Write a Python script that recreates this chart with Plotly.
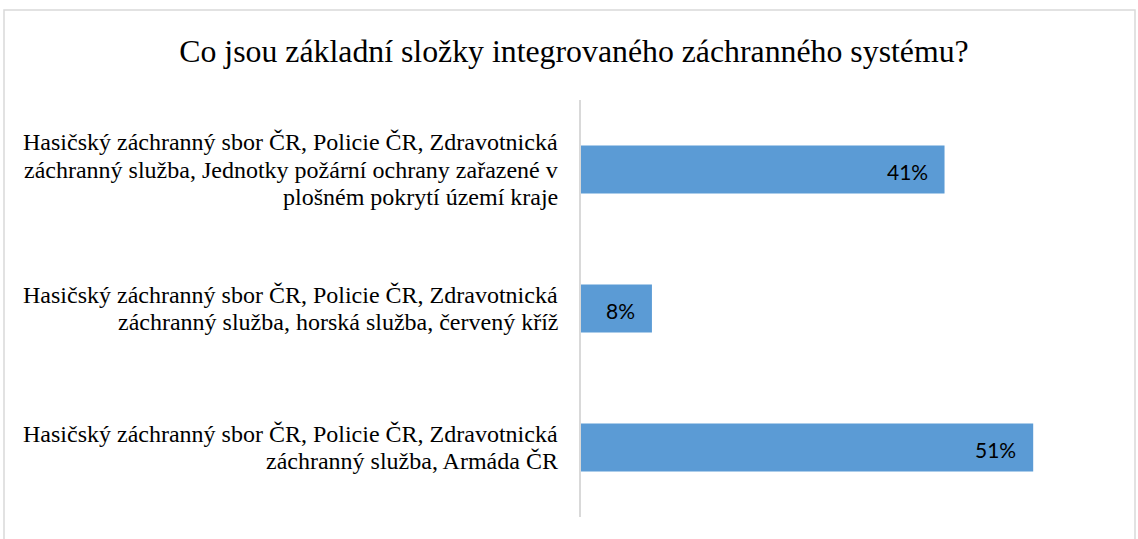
import plotly.graph_objects as go

categories = [
    "Hasičský záchranný sbor ČR, Policie ČR, Zdravotnická<br>záchranný služba, Jednotky požární ochrany zařazené v<br>plošném pokrytí území kraje",
    "Hasičský záchranný sbor ČR, Policie ČR, Zdravotnická<br>záchranný služba, horská služba, červený kříž",
    "Hasičský záchranný sbor ČR, Policie ČR, Zdravotnická<br>záchranný služba, Armáda ČR",
]
values = [0.41, 0.08, 0.51]
labels = ["41%", "8%", "51%"]

W, H = 1138, 539
L, R, T, B = 581, 25, 100, 22
pw = W - L - R
ph = H - T - B

SERIF = "Liberation Serif"
LINE_GAP = 27.7

fig = go.Figure(go.Bar(
    y=categories, x=values, orientation="h",
    marker=dict(color="#5b9bd5", line=dict(width=0)),
    hoverinfo="x+y",
))

annotations = []
# category labels, one annotation per text line for Excel-like line spacing
for cat in categories:
    lines = cat.split("<br>")
    n = len(lines)
    for k, line in enumerate(lines):
        annotations.append(dict(
            text=line, xref="paper", x=0, yref="y", y=cat,
            xanchor="right", yanchor="middle", xshift=-21,
            yshift=-(k - (n - 1) / 2) * LINE_GAP, showarrow=False,
            font=dict(family=SERIF, size=24, color="#000000"),
        ))
# data labels near the end of each bar
for cat, v, lab in zip(categories, values, labels):
    annotations.append(dict(
        text=lab, xref="x", x=v, yref="y", y=cat,
        xanchor="right", yanchor="middle", xshift=-15, yshift=-2, showarrow=False,
        font=dict(family="Lato, Liberation Sans, sans-serif", size=21, color="#000000"),
    ))

fig.update_layout(
    width=W, height=H,
    margin=dict(l=L, r=R, t=T, b=B, autoexpand=False),
    paper_bgcolor="white", plot_bgcolor="white",
    bargap=0.655,
    showlegend=False,
    title=dict(text="Co jsou základní složky integrovaného záchranného systému?",
               x=574 / W, xref="container", xanchor="center",
               y=1 - 51 / H, yref="container", yanchor="middle",
               font=dict(family=SERIF, size=31.8, color="#000000")),
    xaxis=dict(range=[0, 0.6], showgrid=False, zeroline=False, showticklabels=False,
               showline=False, ticks=""),
    yaxis=dict(autorange="reversed", showgrid=False, showline=True, linecolor="#d9d9d9",
               linewidth=1.5, ticks="", showticklabels=False),
    annotations=annotations,
)

x0 = (4 - L) / pw
x1 = (1135 - L) / pw
y1 = 1 + (T - 10) / ph
y0 = -(B + 5) / ph
fig.add_shape(type="rect", xref="paper", yref="paper", x0=x0, x1=x1, y0=y0, y1=y1,
              line=dict(color="#d9d9d9", width=1.5), fillcolor="rgba(0,0,0,0)", layer="below")

fig.write_html("out.html", config={"displayModeBar": False},
               post_script="document.body.style.margin='0';")
